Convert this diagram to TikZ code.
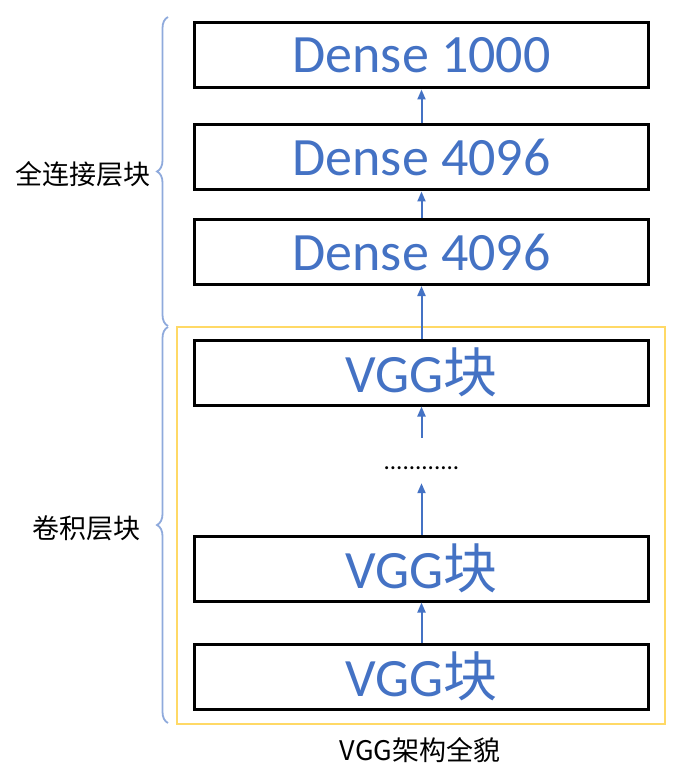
\documentclass[tikz,border=0pt]{standalone}
\usepackage{fontspec}
\setmainfont{Carlito}
\newfontfamily\cjkfont{Noto Sans CJK SC}
\usepackage{xcolor}
\usetikzlibrary{arrows.meta, positioning, decorations.pathreplacing}
\definecolor{vggblue}{HTML}{4472C4}
\definecolor{bracelite}{HTML}{8FAADC}
\definecolor{convyellow}{HTML}{FFD966}

\begin{document}
\begin{tikzpicture}[x=1pt, y=-1pt, >={Triangle[length=10pt, width=8pt]}]
				\tikzstyle{layer} = [draw=black, line width=3pt, rectangle, minimum width=454pt, minimum height=65pt, inner sep=0pt, text=vggblue, font=\fontsize{54}{60}\selectfont]
				\tikzstyle{invis} = [draw=none, inner sep=0pt, font=\cjkfont\fontsize{27}{30}\selectfont]
				\tikzstyle{flow} = [->, draw=vggblue, line width=2pt]
				\tikzstyle{group} = [draw=bracelite, line width=1.8pt, decorate, decoration={brace, amplitude=11pt}]
				
				\useasboundingbox (0,0) rectangle (685,783);
				
				\draw[convyellow, line width=2pt] (177,327) rectangle (665,724);
				
				\node[layer] 			at (421.5, 55.5) 	(d3) 	{Dense 1000};
				\node[layer] 			at (421.5, 157.5) 	(d2) 	{Dense 4096};
				\node[layer] 			at (421.5, 252) 	(d1) 	{Dense 4096};
				\node[layer] 			at (421.5, 372.5) 	(v3) 	{VGG{\cjkfont 块}};
				\node[draw=none, inner sep=0pt, minimum height=45pt, text height=18pt, text depth=0pt, font=\fontsize{25}{25}\selectfont]
										at (421.5, 460.5) 	(dots) 	{............};
				\node[layer] 			at (421.5, 568.5) 	(v2) 	{VGG{\cjkfont 块}};
				\node[layer] 			at (421.5, 676.5) 	(v1) 	{VGG{\cjkfont 块}};
				
				\coordinate (fcb) at (168, 326);
				\coordinate (fct) at (168, 17);
				\coordinate (cvb) at (168, 723);
				\coordinate (cvt) at (168, 327);
				\draw[group] (fcb) -- (fct);
				\draw[group] (cvb) -- (cvt);
				
				\node[invis, anchor=east] 	at (151, 174) 	(fclabel) 	{全连接层块};
				\node[invis, anchor=east] 	at (141, 528) 	(cvlabel) 	{卷积层块};
				\node[invis] 			at (420, 750) 	(title) 	{VGG架构全貌};
				
				\draw[flow] (d2.north) -- (d3.south);
				\draw[flow] (d1.north) -- (d2.south);
				\draw[flow] (v3.north) -- (d1.south);
				\draw[flow] (dots.north) -- (v3.south);
				\draw[flow] (v2.north) -- (dots.south);
				\draw[flow] (v1.north) -- (v2.south);
			\end{tikzpicture}
\end{document}
